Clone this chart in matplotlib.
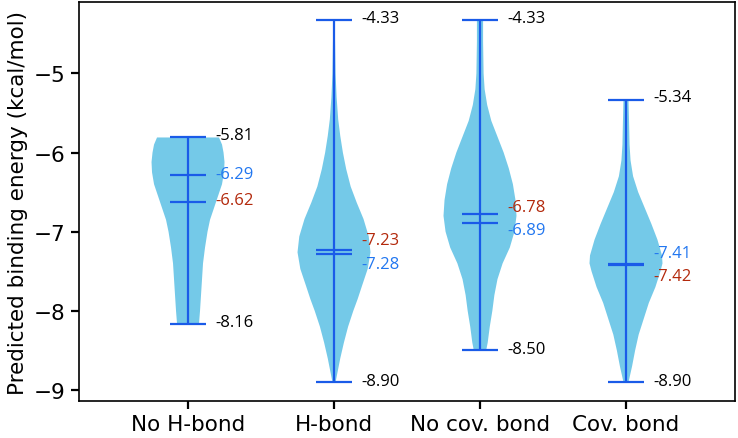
import numpy as np
import matplotlib
matplotlib.use("Agg")
import matplotlib.pyplot as plt

categories = ["No H-bond", "H-bond", "No cov. bond", "Cov. bond"]
max_vals = [-5.81, -4.33, -4.33, -5.34]
min_vals = [-8.16, -8.90, -8.50, -8.90]
mean_vals = [-6.62, -7.23, -6.78, -7.42]
median_vals = [-6.29, -7.28, -6.89, -7.41]

# density profiles (energy level, relative half-width)
noh_y = [-5.81, -5.9, -6.0, -6.12, -6.25, -6.4, -6.55, -6.7, -6.85, -7.0, -7.2, -7.4, -7.6, -7.8, -8.0, -8.16]
noh_w = [31, 34, 35.5, 36.5, 36, 34, 30, 26, 22, 19.5, 17, 15, 14, 13, 12, 11]
hb_y = [-4.33, -4.6, -5.0, -5.3, -5.58, -5.79, -6.0, -6.21, -6.43, -6.63, -6.84, -7.06, -7.26, -7.47, -7.69, -7.85, -8.0, -8.2, -8.4, -8.6, -8.8, -8.9]
hb_w = [0.5, 1, 1.5, 2.5, 4, 6, 8.5, 11.7, 16, 21.7, 28.3, 33.3, 35, 32.3, 26.7, 22.7, 18.5, 13.5, 9.5, 6, 3, 1.5]
nocov_y = [-4.33, -4.6, -5.0, -5.2, -5.4, -5.6, -5.8, -6.0, -6.2, -6.4, -6.6, -6.8, -7.0, -7.2, -7.4, -7.6, -7.8, -8.0, -8.2, -8.4, -8.5]
nocov_w = [3, 3, 3.5, 4.5, 7, 11, 17, 23, 28, 32, 34.5, 35.5, 33.5, 29, 22, 17, 14, 12, 9.5, 7.5, 6]
cov_y = [-5.34, -5.6, -5.9, -6.1, -6.3, -6.5, -6.7, -6.9, -7.1, -7.3, -7.4, -7.5, -7.7, -7.9, -8.1, -8.3, -8.5, -8.7, -8.9]
cov_w = [2.5, 3, 3.5, 4.5, 7, 12, 18.5, 25, 31, 35.5, 36, 34, 29, 22.5, 17.5, 12.5, 9, 6, 2.5]

profiles_y = [noh_y, hb_y, nocov_y, cov_y]
profiles_w = [noh_w, hb_w, nocov_w, cov_w]

body_color = "#74C9E8"
line_color = "#1A5BE8"
median_text_color = "#2277F0"
mean_text_color = "#B3290C"

fig = plt.figure(figsize=(7.38, 4.39), dpi=100)
ax = fig.add_axes([0.107, 0.084, 0.889, 0.909])

positions = np.arange(1, len(categories) + 1)
vpstats = []
for i in range(len(categories)):
    vpstats.append({
        "coords": np.array(profiles_y[i]),
        "vals": np.array(profiles_w[i], dtype=float),
        "mean": mean_vals[i],
        "median": median_vals[i],
        "min": min_vals[i],
        "max": max_vals[i],
    })

parts = ax.violin(vpstats, positions=positions, widths=0.5,
                  showmeans=True, showmedians=True, showextrema=True)
for b in parts["bodies"]:
    b.set_facecolor(body_color)
    b.set_edgecolor("none")
    b.set_alpha(1)
for key in ["cbars", "cmins", "cmaxes", "cmeans", "cmedians"]:
    parts[key].set_color(line_color)
    parts[key].set_linewidth(1.6)

txt_kw = dict(fontsize=12, family="Open Sans", va="center", ha="left")
dx = 0.19
for i, p in enumerate(positions):
    ax.annotate(f"{max_vals[i]:.2f}", (p + dx, max_vals[i]), xytext=(0, 2),
                textcoords="offset points", color="black", **txt_kw)
    ax.annotate(f"{min_vals[i]:.2f}", (p + dx, min_vals[i]), xytext=(0, 1),
                textcoords="offset points", color="black", **txt_kw)
    mn, md = mean_vals[i], median_vals[i]
    if abs(mn - md) < 0.2:
        mid = (mn + md) / 2
        off = 8.5
        if mn > md:
            mn_off, md_off = off, -off
        else:
            mn_off, md_off = -off, off
        ax.annotate(f"{mn:.2f}", (p + dx, mid), xytext=(0, mn_off),
                    textcoords="offset points", color=mean_text_color, **txt_kw)
        ax.annotate(f"{md:.2f}", (p + dx, mid), xytext=(0, md_off),
                    textcoords="offset points", color=median_text_color, **txt_kw)
    else:
        ax.annotate(f"{mn:.2f}", (p + dx, mn), xytext=(0, 1),
                    textcoords="offset points", color=mean_text_color, **txt_kw)
        ax.annotate(f"{md:.2f}", (p + dx, md), xytext=(0, 1),
                    textcoords="offset points", color=median_text_color, **txt_kw)

ax.set_xlim(0.253, 4.747)
ax.set_ylim(-9.14, -4.10)
ax.set_xticks(positions)
ax.set_xticklabels(categories)
ax.set_yticks([-9, -8, -7, -6, -5])
ax.tick_params(axis="both", labelsize=15.5, length=6, width=1.6)
ax.set_ylabel("Predicted binding energy (kcal/mol)", fontsize=15.5, labelpad=4)
for s in ax.spines.values():
    s.set_linewidth(1.2)

fig.savefig("out.png", dpi=100)
